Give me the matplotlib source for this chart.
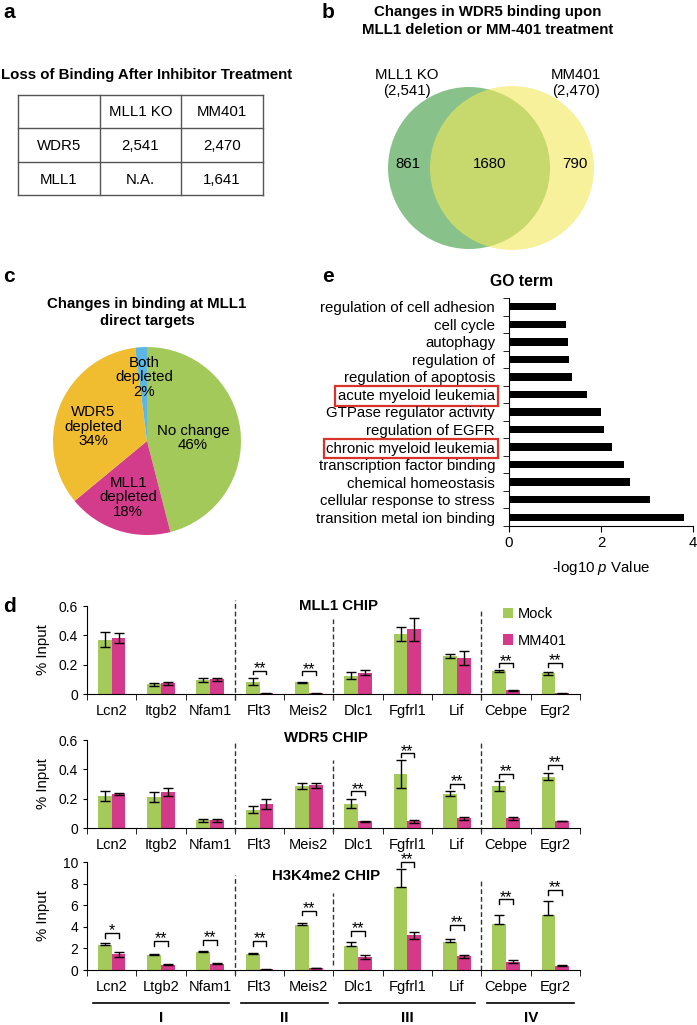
import numpy as np
import matplotlib.pyplot as plt
from matplotlib.patches import Circle
from matplotlib import transforms

plt.rcParams['font.family'] = ['Liberation Sans', 'DejaVu Sans']
plt.rcParams['mathtext.fontset'] = 'custom'
plt.rcParams['mathtext.it'] = 'Liberation Sans:italic'
plt.rcParams['mathtext.rm'] = 'Liberation Sans'

# ---- data ----
# a: table
tbl_header = ['', 'MLL1 KO', 'MM401']
tbl_rows = [['WDR5', '2,541', '2,470'],
            ['MLL1', 'N.A.', '1,641']]

# b: venn
venn_names = ['MLL1 KO\n(2,541)', 'MM401\n(2,470)']
venn_counts = [861, 1680, 790]

# c: pie
pie_names = ['No change', 'MLL1\ndepleted', 'WDR5\ndepleted', 'Both\ndepleted']
pie_values = [46, 18, 34, 2]
pie_colors = ['#a3c95b', '#d33c8b', '#f0bd31', '#5cb7e4']

# e: GO terms (top to bottom)
go_terms = ['regulation of cell adhesion', 'cell cycle', 'autophagy', 'regulation of',
            'regulation of apoptosis', 'acute myeloid leukemia', 'GTPase regulator activity',
            'regulation of EGFR', 'chronic myeloid leukemia', 'transcription factor binding',
            'chemical homeostasis', 'cellular response to stress', 'transition metal ion binding']
go_values = [1.02, 1.25, 1.28, 1.30, 1.37, 1.70, 2.00, 2.07, 2.25, 2.50, 2.62, 3.06, 3.80]
go_boxed = ['acute myeloid leukemia', 'chronic myeloid leukemia']

# d: ChIP-qPCR
genes = ['Lcn2', 'Itgb2', 'Nfam1', 'Flt3', 'Meis2', 'Dlc1', 'Fgfrl1', 'Lif', 'Cebpe', 'Egr2']
genes_h3 = ['Lcn2', 'Ltgb2', 'Nfam1', 'Flt3', 'Meis2', 'Dlc1', 'Fgfrl1', 'Lif', 'Cebpe', 'Egr2']
groups = ['I', 'II', 'III', 'IV']
group_first = [0, 3, 5, 8]
group_last = [2, 4, 7, 9]

mll1_mock = [0.37, 0.065, 0.095, 0.085, 0.08, 0.125, 0.41, 0.26, 0.155, 0.14]
mll1_mock_err = [0.05, 0.01, 0.012, 0.025, 0.003, 0.025, 0.05, 0.012, 0.008, 0.012]
mll1_mm = [0.38, 0.072, 0.10, 0.005, 0.005, 0.145, 0.44, 0.245, 0.025, 0.005]
mll1_mm_err = [0.035, 0.012, 0.012, 0.002, 0.002, 0.018, 0.08, 0.045, 0.003, 0.002]
mll1_sig_idx = [3, 4, 8, 9]
mll1_sig_y = [0.16, 0.155, 0.21, 0.214]
mll1_sig_txt = ['**', '**', '**', '**']

wdr5_mock = [0.22, 0.21, 0.052, 0.125, 0.285, 0.165, 0.37, 0.235, 0.285, 0.35]
wdr5_mock_err = [0.035, 0.035, 0.008, 0.025, 0.02, 0.03, 0.095, 0.018, 0.035, 0.025]
wdr5_mm = [0.23, 0.245, 0.052, 0.165, 0.29, 0.045, 0.045, 0.065, 0.065, 0.048]
wdr5_mm_err = [0.008, 0.03, 0.008, 0.035, 0.02, 0.005, 0.008, 0.012, 0.012, 0.003]
wdr5_sig_idx = [5, 6, 7, 8, 9]
wdr5_sig_y = [0.25, 0.51, 0.30, 0.37, 0.43]
wdr5_sig_txt = ['**', '**', '**', '**', '**']

h3_mock = [2.35, 1.38, 1.68, 1.48, 4.2, 2.2, 7.7, 2.6, 4.3, 5.05]
h3_mock_err = [0.12, 0.08, 0.06, 0.08, 0.15, 0.4, 1.65, 0.3, 0.8, 1.3]
h3_mm = [1.45, 0.48, 0.6, 0.05, 0.18, 1.2, 3.2, 1.28, 0.78, 0.38]
h3_mm_err = [0.2, 0.06, 0.06, 0.02, 0.03, 0.15, 0.35, 0.15, 0.1, 0.05]
h3_sig_idx = [0, 1, 2, 3, 4, 5, 6, 7, 8, 9]
h3_sig_y = [3.45, 2.7, 2.8, 2.7, 5.5, 3.6, 10.0, 4.2, 6.55, 7.4]
h3_sig_txt = ['*', '**', '**', '**', '**', '**', '**', '**', '**', '**']

GREEN = '#a4ca5a'
MAGENTA = '#d4398a'

W, H = 697, 1025
fig = plt.figure(figsize=(W / 100, H / 100), dpi=100)


def box(l, t, r, b):
    return [l / W, 1 - b / H, (r - l) / W, (b - t) / H]


FS = 10.8

# overlay for panel letters, table, titles
ov = fig.add_axes([0, 0, 1, 1])
ov.set_xlim(0, W)
ov.set_ylim(H, 0)
ov.set_axis_off()

for lab, x, y in [('a', 3, 12), ('b', 322, 12), ('c', 3, 277), ('e', 322, 277), ('d', 3, 607)]:
    ov.text(x, y, lab, fontsize=15, fontweight='bold', ha='left', va='center')

# ---- a: table ----
ov.text(147, 75, 'Loss of Binding After Inhibitor Treatment', fontsize=FS,
        fontweight='bold', ha='center', va='center')
xs = [18, 100, 181, 263]
ys = [95, 128, 162, 195]
for x in xs:
    ov.plot([x, x], [ys[0], ys[-1]], color='#555555', lw=1)
for y in ys:
    ov.plot([xs[0], xs[-1]], [y, y], color='#555555', lw=1)
for r, row in enumerate([tbl_header] + tbl_rows):
    for c, val in enumerate(row):
        ov.text((xs[c] + xs[c + 1]) / 2, (ys[r] + ys[r + 1]) / 2 + 1, val,
                fontsize=FS, ha='center', va='center')

# ---- b: venn ----
ov.text(488, 12, 'Changes in WDR5 binding upon', fontsize=FS, fontweight='bold',
        ha='center', va='center')
ov.text(488, 30, 'MLL1 deletion or MM-401 treatment', fontsize=FS, fontweight='bold',
        ha='center', va='center')
axv = fig.add_axes(box(340, 60, 697, 260))
axv.set_xlim(340, 697)
axv.set_ylim(260, 60)
axv.set_aspect('equal')
axv.set_axis_off()
axv.add_patch(Circle((469, 168), 81, color='#88c28a', lw=0))
axv.add_patch(Circle((512, 168), 82, color='#f2e85a', alpha=0.6, lw=0))
axv.text(407, 83, venn_names[0], fontsize=FS, ha='center', va='center', linespacing=1.1)
axv.text(576, 83, venn_names[1], fontsize=FS, ha='center', va='center', linespacing=1.1)
for x, n in zip([408, 490, 575], venn_counts):
    axv.text(x, 164, str(n), fontsize=FS, ha='center', va='center')

# ---- c: pie ----
ov.text(147, 304, 'Changes in binding at MLL1', fontsize=FS, fontweight='bold',
        ha='center', va='center')
ov.text(147, 321, 'direct targets', fontsize=FS, fontweight='bold',
        ha='center', va='center')
axp = fig.add_axes(box(53, 347, 241, 535))
axp.pie(pie_values, colors=pie_colors, startangle=90, counterclock=False,
        wedgeprops=dict(lw=0))
axp.set_xlim(-1, 1)
axp.set_ylim(-1, 1)
axp.set_aspect('equal')
pie_pos = [(0.49, 0.03), (-0.20, -0.60), (-0.57, 0.15), (-0.03, 0.68)]
for name, v, (px, py) in zip(pie_names, pie_values, pie_pos):
    axp.text(px, py, f'{name}\n{v}%', fontsize=FS, ha='center', va='center',
             linespacing=1.05)

# ---- e: GO term ----
ov.text(522, 281, 'GO term', fontsize=FS + 0.5, fontweight='bold', ha='center', va='center')
axg = fig.add_axes(box(509, 298, 693, 526))
ypos = np.arange(len(go_terms))[::-1]
axg.barh(ypos, go_values, height=0.42, color='black')
axg.set_xlim(0, 4)
axg.set_ylim(-0.5, len(go_terms) - 0.5)
axg.set_yticks(ypos)
axg.set_yticklabels(go_terms, fontsize=FS)
axg.set_yticks(np.arange(len(go_terms) + 1) - 0.5, minor=True)
axg.tick_params(axis='y', which='major', length=0, pad=10)
axg.tick_params(axis='y', which='minor', length=4, direction='out')
axg.set_xticks([0, 2, 4])
axg.tick_params(axis='x', labelsize=FS, length=4, direction='out')
axg.set_xlabel('-log10 $\\it{p}$ Value', fontsize=FS, labelpad=6)
for s in ['top', 'right']:
    axg.spines[s].set_visible(False)
for lab in axg.get_yticklabels():
    if lab.get_text() in go_boxed:
        lab.set_bbox(dict(boxstyle='square,pad=0.18', fc='none', ec='#d9342b', lw=1.6))

# ---- d: ChIP bar charts ----
x = np.arange(len(genes))
bw = 0.28


def chip(rect, title, title_x, title_y, mock, mock_err, mm, mm_err, ymax, yticks, ytl,
         sig_idx, sig_y, sig_txt, labels, sep_top, sep_bot, mock_lo=None, legend=False):
    ax = fig.add_axes(rect)
    b1 = ax.bar(x - bw / 2, mock, bw, color=GREEN, label='Mock')
    b2 = ax.bar(x + bw / 2, mm, bw, color=MAGENTA, label='MM401')
    lo = mock_err if mock_lo is None else mock_lo
    ax.errorbar(x - bw / 2, mock, yerr=[lo, mock_err], fmt='none', ecolor='black',
                elinewidth=1, capsize=3.5, capthick=1)
    ax.errorbar(x + bw / 2, mm, yerr=mm_err, fmt='none', ecolor='black',
                elinewidth=1, capsize=3.5, capthick=1)
    d = ymax * 0.045
    for i, h, t in zip(sig_idx, sig_y, sig_txt):
        ax.plot([i - bw / 2, i - bw / 2, i + bw / 2, i + bw / 2], [h - d, h, h, h - d],
                color='black', lw=1, clip_on=False)
        ax.annotate(t, (i, h), xytext=(0, -1.8), textcoords='offset points',
                    fontsize=11.5, ha='center', va='baseline', annotation_clip=False)
    ax.set_xlim(-0.5, len(labels) - 0.5)
    ax.set_ylim(0, ymax)
    ax.set_yticks(yticks)
    ax.set_yticklabels(ytl, fontsize=10)
    ax.set_xticks(x)
    ax.set_xticklabels(labels, fontsize=10.5)
    ax.set_xticks(np.arange(len(labels) + 1) - 0.5, minor=True)
    ax.tick_params(axis='x', which='major', length=0, pad=7)
    ax.tick_params(axis='x', which='minor', length=4, direction='out')
    ax.tick_params(axis='y', length=3, direction='out')
    for s in ['top', 'right']:
        ax.spines[s].set_visible(False)
    ax.set_ylabel('% Input', fontsize=FS)
    ax.yaxis.set_label_coords(-0.076, 0.5)
    tr = transforms.blended_transform_factory(ax.transData, ax.transAxes)
    ax.text(title_x, title_y, title, transform=tr, fontsize=FS,
            fontweight='bold', ha='center', va='center')
    for g, t0, b0 in zip(group_last[:-1], sep_top, sep_bot):
        ax.plot([g + 0.5, g + 0.5], [b0, t0], transform=tr, color='#333333', lw=1,
                ls=(0, (3.5, 2)), clip_on=False)
    if legend:
        ax.legend(handles=[b1, b2], loc='upper left', bbox_to_anchor=(490 / W, 1 - 594 / H),
                  bbox_transform=fig.transFigure, frameon=False, fontsize=10.5,
                  handlelength=0.7, handleheight=0.7, handletextpad=0.3, labelspacing=0.85)
    return ax, tr


chip(box(87, 606, 580, 694), 'MLL1 CHIP', 4.6, 1.0, mll1_mock, mll1_mock_err, mll1_mm, mll1_mm_err,
     0.6, [0, 0.2, 0.4, 0.6], ['0', '0.2', '0.4', '0.6'],
     mll1_sig_idx, mll1_sig_y, mll1_sig_txt, genes,
     [1.07, 0.85, 0.96], [-0.07, -0.07, -0.07], legend=True)

chip(box(87, 740, 580, 828), 'WDR5 CHIP', 4.35, 1.02, wdr5_mock, wdr5_mock_err, wdr5_mm, wdr5_mm_err,
     0.6, [0, 0.2, 0.4, 0.6], ['0', '0.2', '0.4', '0.6'],
     wdr5_sig_idx, wdr5_sig_y, wdr5_sig_txt, genes,
     [0.98, 0.77, 0.97], [-0.05, -0.05, -0.05])

axh, trh = chip(box(87, 862, 580, 970), 'H3K4me2 CHIP', 4.35, 0.87, h3_mock, h3_mock_err, h3_mm, h3_mm_err,
                10, [0, 2, 4, 6, 8, 10], ['0', '2', '4', '6', '8', '10'],
                h3_sig_idx, h3_sig_y, h3_sig_txt, genes_h3,
                [0.88, 0.71, 0.83], [-0.05, 0.05, 0.0], mock_lo=[0] * len(h3_mock))

for name, g0, g1 in zip(groups, group_first, group_last):
    axh.plot([g0 - 0.38, g1 + 0.38], [-0.305, -0.305], transform=trh, color='black',
             lw=1.2, clip_on=False)
    axh.text((g0 + g1) / 2, -0.445, name, transform=trh, fontsize=11, fontweight='bold',
             ha='center', va='center')

fig.savefig('out.png', dpi=100)
